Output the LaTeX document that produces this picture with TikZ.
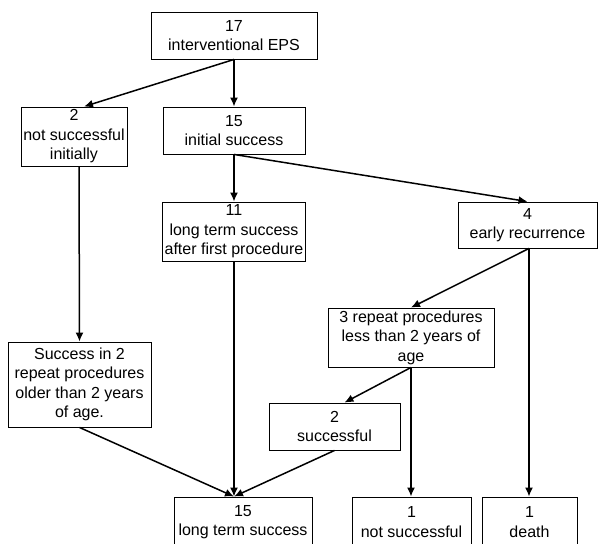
\documentclass[tikz,border=0pt]{standalone}
\usepackage{fontspec}
\setmainfont{Liberation Sans}
\usetikzlibrary{arrows.meta}
\begin{document}
\begin{tikzpicture}[x=1pt,y=-1pt,
  box/.style={draw=black, line width=0.9pt, rectangle, inner sep=0pt, align=center,
    font=\fontsize{16pt}{19.5pt}\selectfont},
  conn/.style={line width=1.5pt, -{Latex[length=9pt,width=8pt]}}]
\useasboundingbox (0,0) rectangle (598,544);
\clip (0,0) rectangle (598,544);
\fill[white] (0,0) rectangle (598,544);
\node[box, minimum width=166pt, minimum height=47pt] (top) at (234,35.5) {17\\interventional EPS};
\node[box, minimum width=106pt, minimum height=59pt] (notinit) at (74,136.5) {2\\not successful\\initially};
\node[box, minimum width=142pt, minimum height=47pt] (init) at (234,130.5) {15\\initial success};
\node[box, minimum width=143pt, minimum height=59pt] (lt11) at (234,231.5) {11\\long term success\\after first procedure};
\node[box, minimum width=139pt, minimum height=46pt] (early) at (527.5,225) {4\\early recurrence};
\node[box, minimum width=166pt, minimum height=59pt] (rep3) at (411,337.5) {3 repeat procedures\\less than 2 years of\\age};
\node[box, minimum width=131pt, minimum height=47pt] (succ2) at (334.5,426.5) {2\\successful};
\node[box, minimum width=143pt, minimum height=85pt] (older) at (79.5,384.5) {Success in 2\\repeat procedures\\older than 2 years\\of age.};
\node[box, minimum width=138pt, minimum height=50pt] (lt15) at (243,522) {15\\long term success};
\node[box, minimum width=119pt, minimum height=50pt] (notsucc) at (411.5,522) {1\\not successful};
\node[box, minimum width=95pt, minimum height=50pt] (death) at (529.5,522) {1\\death};
\coordinate (lt15in) at (lt11.south |- lt15.north);
\draw[conn] (top.south) -- ([xshift=10pt]notinit.north);
\draw[conn] (top.south) -- (init.north);
\draw[conn] ([xshift=5pt]notinit.south) -- (older.north);
\draw[conn] (init.south) -- (lt11.north);
\draw[conn] (init.south) -- (early.north);
\draw[conn] (lt11.south) -- (lt15in);
\draw[conn] (older.south) -- (lt15in);
\draw[conn] (succ2.south) -- (lt15in);
\draw[conn] ([xshift=1.5pt]early.south) -- (rep3.north);
\draw[conn] ([xshift=1.5pt]early.south) -- ([xshift=1.5pt]early.south |- death.north);
\draw[conn] (rep3.south) -- ([xshift=10pt]succ2.north);
\draw[conn] (rep3.south) -- (rep3.south |- notsucc.north);
\end{tikzpicture}
\end{document}
